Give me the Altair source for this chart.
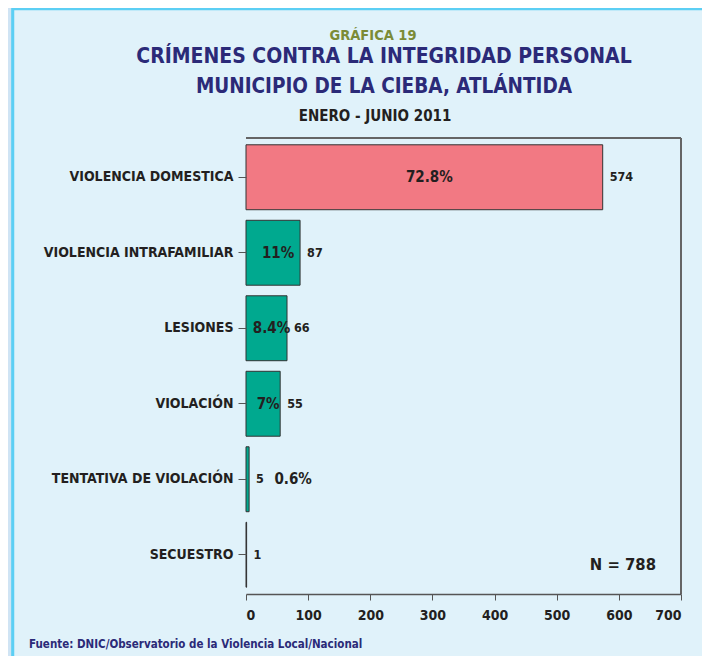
import altair as alt
import pandas as pd

categories = ["VIOLENCIA DOMESTICA", "VIOLENCIA INTRAFAMILIAR", "LESIONES",
              "VIOLACIÓN", "TENTATIVA DE VIOLACIÓN", "SECUESTRO"]
counts = [574, 87, 66, 55, 5, 1]
pct_labels = ["72.8%", "11%", "8.4%", "7%", "0.6%", ""]
bar_colors = ["#f27983", "#00a98f", "#00a98f", "#00a98f", "#00a98f", "#222222"]
x_ticks = [0, 100, 200, 300, 400, 500, 600, 700]
total_n = 788

FONT = "DejaVu Sans Condensed"
INK = "#231f20"
NAVY = "#2b2a78"

df = pd.DataFrame({"cat": categories, "n": counts, "pct": pct_labels,
                   "color": bar_colors})

W, H = 435, 456
PAD_L, PAD_T = 238, 130

y_enc = alt.Y("cat:N", sort=categories,
              scale=alt.Scale(paddingInner=0.14, paddingOuter=0.09),
              axis=alt.Axis(title=None, labelFont=FONT, labelFontSize=14,
                            labelFontWeight="bold", labelColor=INK,
                            tickColor="#555", tickSize=8, labelPadding=5,
                            domain=False, labelLimit=300, zindex=1))
x_enc = alt.X("n:Q", scale=alt.Scale(domain=[0, 700], nice=False),
              axis=alt.Axis(title=None, values=x_ticks, labelFont=FONT,
                            labelFontSize=14, labelFontWeight="bold",
                            labelColor=INK, tickColor="#555", tickSize=6,
                            domainColor="#555", domainWidth=1.5, grid=False,
                            labelPadding=8, zindex=1))

panel = alt.Chart(df).mark_rect(fill="#e0f2fa", stroke="#5ccff4",
                                strokeWidth=2.5, clip=False).encode(
    x=alt.value(5 - PAD_L), x2=alt.value(W + 40),
    y=alt.value(1 - PAD_T), y2=alt.value(H + 80))

frame_top = alt.Chart(df).mark_rule(color="#666666", strokeWidth=1.5).encode(
    x=alt.value(0), x2=alt.value(W), y=alt.value(0))
frame_right = alt.Chart(df).mark_rule(color="#666666", strokeWidth=1.5).encode(
    x=alt.value(W), y=alt.value(0), y2=alt.value(H))

bars = alt.Chart(df).mark_bar(stroke="#333333", strokeWidth=1).encode(
    y=y_enc, x=x_enc,
    color=alt.Color("color:N", scale=None))

count_text = alt.Chart(df).mark_text(align="left", dx=7, font=FONT,
                                     fontSize=12.5, fontWeight="bold",
                                     color=INK).encode(
    y=alt.Y("cat:N", sort=categories), x="n:Q", text="n:Q")

pct_big = alt.Chart(df).transform_filter("datum.n >= 50").transform_calculate(
    half="datum.n / 2").mark_text(align="center", dx=5, font=FONT,
                                  fontSize=15, fontWeight="bold",
                                  color=INK).encode(
    y=alt.Y("cat:N", sort=categories), x="half:Q", text="pct:N")

pct_small = alt.Chart(df).transform_filter(
    "datum.n < 50 && datum.pct != ''").mark_text(
    align="center", dx=44, font=FONT, fontSize=15, fontWeight="bold",
    color=INK).encode(
    y=alt.Y("cat:N", sort=categories), x="n:Q", text="pct:N")

n_text = alt.Chart(df).transform_filter("datum.cat == 'SECUESTRO'").mark_text(
    align="right", font=FONT, fontSize=16.5, fontWeight="bold",
    color=INK, dy=10).encode(
    x=alt.value(W - 25), y=alt.Y("cat:N", sort=categories),
    text=alt.value(f"N = {total_n}"))


def title_text(txt, x, y, size, color, weight="bold"):
    return alt.Chart(df).transform_filter("datum.cat == 'SECUESTRO'").mark_text(
        align="center", baseline="middle", font=FONT, fontSize=size,
        fontWeight=weight, color=color, clip=False).encode(
        x=alt.value(x - 8 - PAD_L), y=alt.value(y - 8 - PAD_T),
        text=alt.value(txt))


t1 = title_text("GRÁFICA 19", 373, 36, 14.5, "#7b8b36")
t2 = title_text("CRÍMENES CONTRA LA INTEGRIDAD PERSONAL", 384, 57, 21, NAVY)
t3 = title_text("MUNICIPIO DE LA CIEBA, ATLÁNTIDA", 384, 87, 20.5, NAVY)
t4 = title_text("ENERO - JUNIO 2011", 375, 116, 15, INK)
src = alt.Chart(df).transform_filter("datum.cat == 'SECUESTRO'").mark_text(
    align="left", baseline="middle", font=FONT, fontSize=11.5,
    fontWeight="bold", color=NAVY).encode(
    x=alt.value(29 - 8 - PAD_L), y=alt.value(645 - 8 - PAD_T),
    text=alt.value("Fuente: DNIC/Observatorio de la Violencia Local/Nacional"))

chart = alt.layer(panel, frame_top, frame_right, bars, count_text, pct_big,
                  pct_small, n_text, t1, t2, t3, t4, src).properties(
    width=W, height=H,
    autosize=alt.AutoSizeParams(type="none"),
    padding={"left": PAD_L, "top": PAD_T, "right": 694 - PAD_L - W,
             "bottom": 648 - PAD_T - H},
    background="#d0e4f4",
).configure_view(stroke=None)

chart.save("out.html", embed_options={"renderer": "svg", "actions": False})
